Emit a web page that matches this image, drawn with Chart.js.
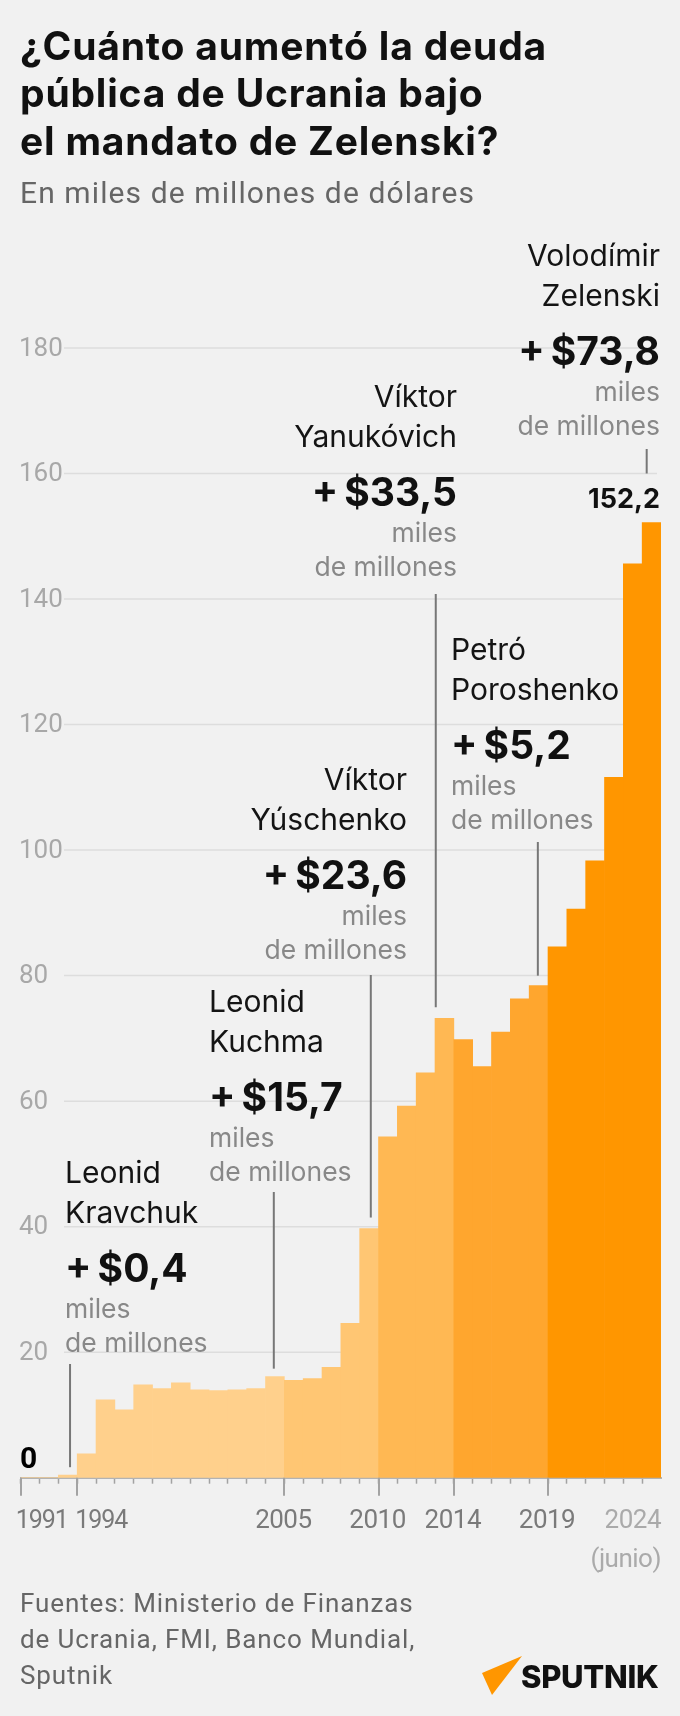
<!DOCTYPE html>
<html lang="es">
<head>
<meta charset="utf-8">
<title>Deuda pública de Ucrania</title>
<script src="https://cdn.jsdelivr.net/npm/chart.js@4.4.1/dist/chart.umd.min.js"></script>
<style>
  html, body { margin: 0; padding: 0; background: #f1f1f1; }
  #wrap { position: relative; width: 680px; height: 1716px; }
  canvas { display: block; }
</style>
</head>
<body>
<div id="wrap"><canvas id="debtChart" width="680" height="1716"></canvas></div>
<script>
// deuda pública, miles de millones de dólares (fin de año, 2024 = junio)
const years = [1991, 1992, 1993, 1994, 1995, 1996, 1997, 1998, 1999, 2000,
               2001, 2002, 2003, 2004, 2005, 2006, 2007, 2008, 2009, 2010,
               2011, 2012, 2013, 2014, 2015, 2016, 2017, 2018, 2019, 2020,
               2021, 2022, 2023, 2024];
const debt = [0, 0, 0.4, 3.8, 12.4, 10.8, 14.8, 14.2, 15.1, 14.0,
              13.9, 14.0, 14.2, 16.1, 15.5, 15.8, 17.6, 24.6, 39.7, 54.3,
              59.2, 64.5, 73.2, 69.8, 65.5, 71.0, 76.3, 78.4, 84.6, 90.6,
              98.3, 111.6, 145.6, 152.2];

const yTicks = [20, 40, 60, 80, 100, 120, 140, 160, 180];
const xLabelYears = [1991, 1994, 2005, 2010, 2014, 2019, 2024];

const leaderNames = [['Leonid', 'Kravchuk'], ['Leonid', 'Kuchma'], ['Víktor', 'Yúschenko'],
                     ['Víktor', 'Yanukóvich'], ['Petró', 'Poroshenko'], ['Volodímir', 'Zelenski']];
const termStart = [1991, 1994, 2005, 2010, 2014, 2019];
const termEnd = [1993, 2004, 2009, 2013, 2018, 2024];
const debtIncrease = [0.4, 15.7, 23.6, 33.5, 5.2, 73.8];
const termColors = ['#ffd08c', '#ffd08c', '#ffc673', '#ffb853', '#ffa62e', '#ff9600'];

// where each note sits on the page
const notePlace = [
  { x: 65,  base: 1183, align: 'left',  lineTop: 1364, shift: 0.62, gap: 8 },
  { x: 209, base: 1012, align: 'left',  lineTop: 1192, shift: 0.44, gap: 8 },
  { x: 407, base: 790,  align: 'right', lineTop: 975,  shift: 0.59, gap: 11 },
  { x: 457, base: 407,  align: 'right', lineTop: 594,  shift: 0.04, gap: 11 },
  { x: 451, base: 660,  align: 'left',  lineTop: 842,  shift: 0.46, gap: 10 },
  { x: 660, base: 266,  align: 'right', lineTop: 449,  shift: 0.24, gap: 49 }
];

const fmt = (v) => v.toFixed(1).replace('.', ',');

function colorFor(year) {
  let c = termColors[0];
  termStart.forEach((s, i) => { if (year >= s) c = termColors[i]; });
  return c;
}

function line(ctx, x1, y1, x2, y2) {
  ctx.beginPath();
  ctx.moveTo(x1, y1);
  ctx.lineTo(x2, y2);
  ctx.stroke();
}

function text(ctx, str, x, y, font, color, align, spacing) {
  ctx.font = font;
  ctx.fillStyle = color;
  ctx.textAlign = align || 'left';
  ctx.letterSpacing = spacing || '0px';
  ctx.fillText(str, x, y);
  ctx.letterSpacing = '0px';
}

const decor = {
  id: 'decor',
  beforeDatasetsDraw(chart) {
    const { ctx, chartArea, scales: { y } } = chart;
    ctx.save();
    ctx.strokeStyle = '#dddddd';
    ctx.lineWidth = 1.5;
    yTicks.forEach(v => {
      const py = y.getPixelForValue(v);
      line(ctx, 64, py, chartArea.right - 4, py);
    });
    ctx.textBaseline = 'middle';
    yTicks.forEach(v => text(ctx, String(v), 19, y.getPixelForValue(v) + 1, '400 26px Roboto', '#a8a8a8'));
    ctx.textBaseline = 'alphabetic';
    text(ctx, '0', 20, y.getPixelForValue(0) - 10, '700 30px Roboto', '#000');
    ctx.restore();
  },
  afterDatasetsDraw(chart) {
    const { ctx, scales: { x, y } } = chart;
    const base = y.getPixelForValue(0);
    ctx.save();

    // long ticks
    ctx.strokeStyle = '#a3a3a3';
    ctx.lineWidth = 2;
    xLabelYears.slice(0, -1).forEach(yr => {
      const px = Math.round(x.getPixelForValue(yr));
      line(ctx, px, base, px, base + 18);
    });

    // year labels
    const yf = '400 26px Roboto';
    xLabelYears.forEach((yr, i) => {
      const px = x.getPixelForValue(yr);
      if (i === 0) {
        text(ctx, String(yr), px - 5, base + 50, '400 25px Roboto', '#7a7a7a', 'left', '-1px');
      } else if (i === 1) {
        text(ctx, String(yr), px - 2, base + 50, '400 25px Roboto', '#7a7a7a', 'left', '-1px');
      } else if (i === xLabelYears.length - 1) {
        text(ctx, String(yr), x.right, base + 50, yf, '#aaaaaa', 'right', '-0.5px');
        text(ctx, '(junio)', x.right, base + 89, yf, '#aaaaaa', 'right', '-0.5px');
      } else {
        text(ctx, String(yr), px - 1, base + 50, yf, '#7a7a7a', 'center', '-0.5px');
      }
    });

    // notes with leader lines
    notePlace.forEach((p, i) => {
      const idx = years.indexOf(termEnd[i]);
      const lx = x.getPixelForValue(termEnd[i] + p.shift);
      ctx.strokeStyle = '#777777';
      ctx.lineWidth = 2;
      line(ctx, lx, p.lineTop, lx, y.getPixelForValue(debt[idx]) - p.gap);

      text(ctx, leaderNames[i][0], p.x, p.base, '400 30px Inter', '#141414', p.align);
      text(ctx, leaderNames[i][1], p.x, p.base + 40, '400 30px Inter', '#141414', p.align);
      text(ctx, '+\u2009$' + fmt(debtIncrease[i]), p.x, p.base + 99, '700 39px Inter', '#111', p.align);
      text(ctx, 'miles', p.x, p.base + 135, '400 26.5px Inter', '#888888', p.align);
      text(ctx, 'de millones', p.x, p.base + 169, '400 26.5px Inter', '#888888', p.align);
    });

    // last value
    const last = debt.length - 1;
    text(ctx, fmt(debt[last]), x.right - 1, y.getPixelForValue(debt[last]) - 14, '700 27px Inter', '#111', 'right');
    ctx.restore();
  },
  afterDraw(chart) {
    const { ctx } = chart;
    ctx.save();
    const tf = '700 39px Inter';
    text(ctx, '¿Cuánto aumentó la deuda', 20, 60, tf, '#111', 'left', '0.8px');
    text(ctx, 'pública de Ucrania bajo', 20, 107, tf, '#111', 'left', '0.8px');
    text(ctx, 'el mandato de Zelenski?', 20, 155, tf, '#111', 'left', '0.8px');
    text(ctx, 'En miles de millones de dólares', 20, 203, '400 30px Roboto', '#666', 'left', '1.1px');

    const ff = '400 26px Roboto';
    text(ctx, 'Fuentes: Ministerio de Finanzas', 20, 1612, ff, '#666', 'left', '0.9px');
    text(ctx, 'de Ucrania, FMI, Banco Mundial,', 20, 1648, ff, '#666', 'left', '0.9px');
    text(ctx, 'Sputnik', 20, 1684, ff, '#666', 'left', '0.9px');

    // logo
    ctx.fillStyle = '#ff9600';
    ctx.beginPath();
    ctx.moveTo(482, 1673);
    ctx.lineTo(522, 1656);
    ctx.lineTo(492, 1695);
    ctx.closePath();
    ctx.fill();
    text(ctx, 'SPUTNIK', 521, 1688, '800 31px Inter', '#111', 'left', '-0.3px');
    ctx.restore();
  }
};

function build() {
  new Chart(document.getElementById('debtChart'), {
    type: 'bar',
    data: {
      datasets: [{
        data: years.map((yr, i) => ({ x: yr + 0.5, y: debt[i] })),
        backgroundColor: years.map(colorFor),
        borderWidth: 0,
        barPercentage: 1,
        categoryPercentage: 1
      }]
    },
    options: {
      responsive: false,
      animation: false,
      devicePixelRatio: 1,
      layout: { padding: { top: 222.5, left: 20.7, right: 19, bottom: 208.3 } },
      plugins: { legend: { display: false }, tooltip: { enabled: false } },
      scales: {
        x: {
          type: 'linear',
          min: 1991,
          max: 2025,
          offset: false,
          afterFit: (s) => { s.height = 30; },
          grid: {
            offset: false,
            drawOnChartArea: false,
            tickLength: 6,
            tickWidth: 1.5,
            tickColor: (c) => (c.tick && c.tick.value === 2025 ? 'rgba(0,0,0,0)' : '#a3a3a3')
          },
          border: { color: '#b3b3b3', width: 2 },
          ticks: { display: false, stepSize: 1, autoSkip: false }
        },
        y: { display: false, min: 0, max: 200 }
      }
    },
    plugins: [decor]
  });
}

Promise.all([
  document.fonts.load('700 39px Inter'),
  document.fonts.load('400 28px Roboto'),
  document.fonts.load('400 30px Inter'),
  document.fonts.load('800 31px Inter')
]).then(build, build);
</script>
</body>
</html>
